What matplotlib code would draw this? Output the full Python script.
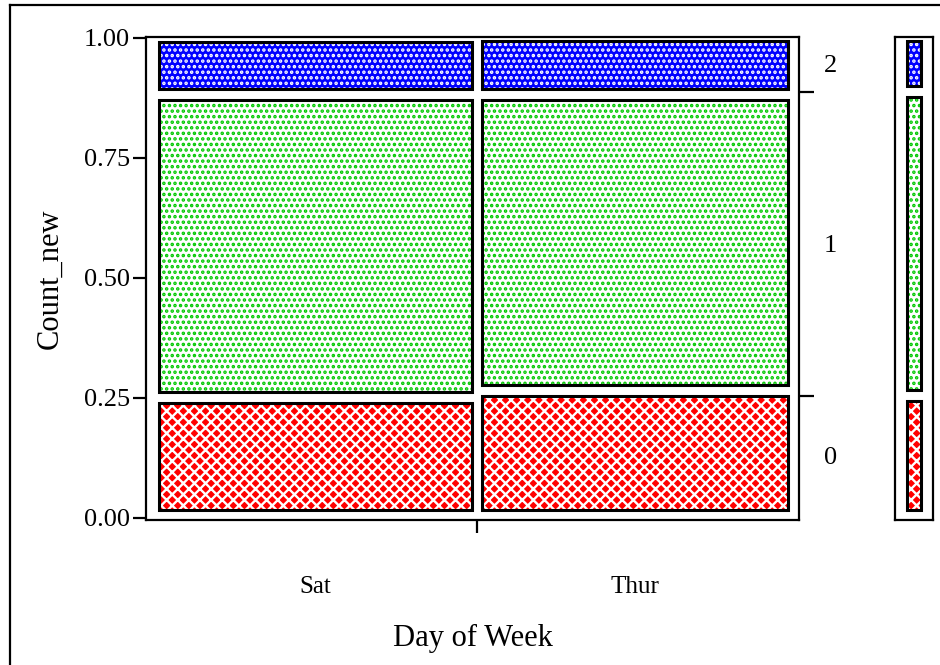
import matplotlib
matplotlib.use('Agg')
import matplotlib.pyplot as plt
from matplotlib.patches import Rectangle
from matplotlib.lines import Line2D

plt.rcParams['font.family'] = ['Liberation Serif', 'DejaVu Serif']
plt.rcParams['hatch.linewidth'] = 1.7

days = ['Sat', 'Thur']
day_share = [0.507, 0.493]
levels = ['0', '1', '2']
sat_props = [0.240, 0.648, 0.112]
thur_props = [0.257, 0.631, 0.112]
all_props = [0.244, 0.651, 0.105]
yticks = [0.00, 0.25, 0.50, 0.75, 1.00]

# level styles: face, hatch, hatch colour
styles = {
    '0': ('#ff0000', 'xxx', 'white'),
    '1': ('white', '...', '#00c800'),
    '2': ('#0000ff', '...', 'white'),
}

W, H = 940, 665
fig = plt.figure(figsize=(W / 100, H / 100), dpi=100)

# main axes frame in pixels: x 146-799, y 37-520
ax = fig.add_axes([146 / W, 1 - 520 / H, (799 - 146) / W, (520 - 37) / H])
ax.set_xlim(0, 1)
ax.set_ylim(-2 / 480, 1 + 1 / 480)

px_x = 1 / 653
px_y = 1 / 480
bw = 1.5  # half border width in px


def tile(a, x0, y0, w, h, lev, pxx, pxy):
    face, hatch, hcol = styles[lev]
    x0 += bw * pxx
    y0 += bw * pxy
    w -= 2 * bw * pxx
    h -= 2 * bw * pxy
    a.add_patch(Rectangle((x0, y0), w, h, facecolor=face, edgecolor=hcol,
                          hatch=hatch, linewidth=0))
    a.add_patch(Rectangle((x0, y0), w, h, fill=False, edgecolor='black',
                          linewidth=2.2))


y_lo = 7 * px_y
ygap = 8 * px_y
yavail = 455 * px_y


def segments(props):
    out = []
    y = y_lo
    for p in props:
        h = p * yavail
        out.append((y, y + h))
        y += h + ygap
    return out


x_lo = 11 * px_x
x_hi = 643 * px_x
xgap = 7 * px_x
xavail = x_hi - x_lo - xgap
x = x_lo
centers = []
for d, s, props in zip(days, day_share, [sat_props, thur_props]):
    w = s * xavail
    for lev, (a, b) in zip(levels, segments(props)):
        tile(ax, x, a, w, b - a, lev, px_x, px_y)
    centers.append(x + w / 2)
    x += w + xgap
boundary_x = x_lo + day_share[0] * xavail + xgap / 2

for sp in ax.spines.values():
    sp.set_linewidth(1.6)

ax.set_yticks(yticks)
ax.set_yticklabels(['%.2f' % v for v in yticks], fontsize=19)
ax.tick_params(axis='y', which='major', direction='out', length=9.5, width=1.6, pad=2)
ax.set_ylabel('Count_new', fontsize=22, labelpad=14)

ax.set_xticks([boundary_x])
ax.set_xticklabels([''])
ax.set_xticks(centers, minor=True)
ax.set_xticklabels(days, minor=True, fontsize=18)
ax.tick_params(axis='x', which='major', direction='out', length=9.5, width=1.6)
ax.tick_params(axis='x', which='minor', length=0, pad=40)
ax.set_xlabel('Day of Week', fontsize=22, labelpad=19)

# right side: marginal boundaries and level labels
rax = ax.twinx()
rax.set_ylim(ax.get_ylim())
segs = segments(all_props)
rb = [(segs[i][1] + segs[i + 1][0]) / 2 for i in range(len(segs) - 1)]
mids = [(a + b) / 2 for a, b in segs]
rax.set_yticks(rb)
rax.set_yticklabels([''] * len(rb))
rax.set_yticks(mids, minor=True)
rax.set_yticklabels(levels, minor=True, fontsize=19)
rax.tick_params(axis='y', which='major', direction='out', length=11, width=1.6)
rax.tick_params(axis='y', which='minor', length=0, pad=18)
for sp in rax.spines.values():
    sp.set_visible(False)

# marginal bar at far right
bax = fig.add_axes([895 / W, 1 - 520 / H, 38 / W, (520 - 37) / H])
bax.set_xlim(0, 1)
bax.set_ylim(ax.get_ylim())
bpx = 1 / 38
for lev, (a, b) in zip(levels, segs):
    tile(bax, 10 * bpx, a, 17 * bpx, b - a, lev, bpx, px_y)
bax.set_xticks([])
bax.set_yticks([])
for sp in bax.spines.values():
    sp.set_linewidth(1.6)

# outer frame (top and left edges)
fig.add_artist(Line2D([10 / W, 1], [1 - 5 / H, 1 - 5 / H], color='black', lw=1.6))
fig.add_artist(Line2D([10 / W, 10 / W], [0, 1 - 5 / H], color='black', lw=1.6))

fig.savefig('out.png', dpi=100)
